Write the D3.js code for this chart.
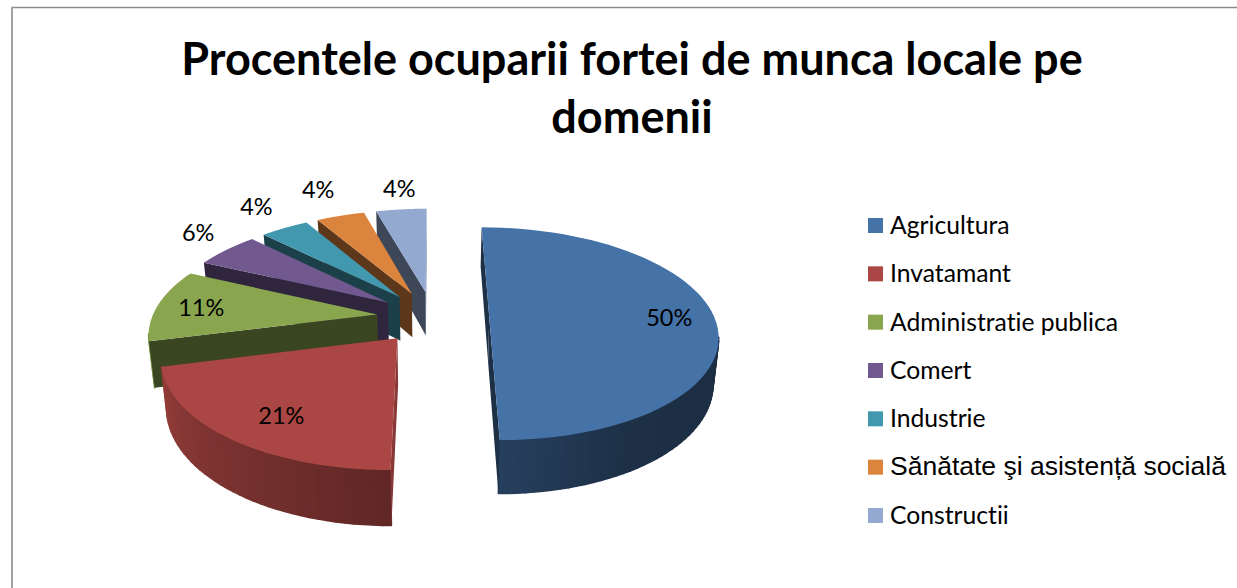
<!DOCTYPE html>
<html>
<head>
<meta charset="utf-8">
<script src="https://d3js.org/d3.v7.min.js"></script>
<style>
  html, body { margin: 0; padding: 0; background: #fff; }
  svg { display: block; }
  text { fill: #000; font-variant-ligatures: none; }
  .title { font-family: Lato, sans-serif; font-weight: 700; font-size: 45px; text-anchor: middle; }
  .pct { font-family: Lato, sans-serif; font-size: 23.5px; text-anchor: middle; dominant-baseline: central; }
  .leg { font-family: Lato, sans-serif; font-size: 24.7px; dominant-baseline: central; }
  .leg.arial { font-family: "Liberation Sans", sans-serif; font-size: 26.5px; }
</style>
</head>
<body>
<svg id="MyGraph" width="1237" height="588"></svg>
<script>
var title_lines = ["Procentele ocuparii fortei de munca locale pe", "domenii"];
var categories = ["Agricultura", "Invatamant", "Administratie publica", "Comert", "Industrie", "Sănătate şi asistență socială", "Constructii"];
// values, the labels round them
var values = [50, 21, 11, 5.5, 4.1, 4.1, 4.3];
var colors = ["#4572a7", "#aa4643", "#89a54e", "#71588f", "#4198af", "#db843d", "#93a9cf"];

// 3D pie geometry: ground plane (u right, v toward the viewer) seen in perspective
var cx = 433, cy = 317, horizon = -344;
var radius_x = 225, persp = 0.157, explode = 0.25, depth = 45, shrink = 0.98;
var label_r = [0.8, 0.76, 0.8, 1.27, 1.34, 1.41, 1.3];
var label_turn = [0, -3, 0, 3.5, 1.5, 0.5, 1];

var svg = d3.select("#MyGraph");

// frame
svg.append("line").attr("x1", 11).attr("x2", 1237).attr("y1", 7.5).attr("y2", 7.5)
    .attr("stroke", "#8c8c8c").attr("stroke-width", 1.5);
svg.append("line").attr("x1", 12).attr("x2", 12).attr("y1", 7).attr("y2", 588)
    .attr("stroke", "#a0a0a0").attr("stroke-width", 2);

// title
svg.selectAll("text.title").data(title_lines).enter().append("text")
    .attr("class", "title")
    .attr("x", 632)
    .attr("y", function(d, i){ return 75 + i * 58; })
    .text(function(d){ return d; });

function depthScale(v){ return 1 / (1 - persp * v); }

// ground -> top face
function project(u, v){
  var w = depthScale(v);
  return [cx + radius_x * u * w, horizon + (cy - horizon) * w];
}
// ground -> bottom face
function projectLow(u, v){
  var p = project(u, v);
  return [cx + (p[0] - cx) * shrink, p[1] + depth * depthScale(v)];
}

function shade(color, k){
  var c = d3.rgb(color);
  return d3.rgb(c.r * k, c.g * k, c.b * k).formatHex();
}

// rim shading by angle (degrees, clockwise from the back)
var rim_shade = d3.scaleLinear()
    .domain([0, 90, 150, 180, 255, 360])
    .range([0.4, 0.4, 0.42, 0.56, 0.86, 0.86]);

var pie = d3.pie().sort(null).startAngle(0).endAngle(2 * Math.PI).padAngle(0);
var slices = pie(values).map(function(d, i){
  var mid = (d.startAngle + d.endAngle) / 2;
  return {
    i: i,
    a0: d.startAngle,
    a1: d.endAngle,
    mid: mid,
    eu: explode * Math.sin(mid),
    ev: -explode * Math.cos(mid)
  };
});

var line = d3.line();
var camera = [0, 1 / persp];

function faces(n, p){
  return n[0] * (camera[0] - p[0]) + n[1] * (camera[1] - p[1]) > 0;
}

function rimPoint(s, a){
  return [s.eu + Math.sin(a), s.ev - Math.cos(a)];
}

function wallPath(s, a){
  var r = rimPoint(s, a);
  return line([
    project(s.eu, s.ev), project(r[0], r[1]),
    projectLow(r[0], r[1]), projectLow(s.eu, s.ev)
  ]) + "Z";
}

// far slices first
var order = slices.slice().reverse();

order.forEach(function(s){
  var g = svg.append("g").attr("class", "slice");
  var color = colors[s.i];

  // outer rim in small strips
  var step = Math.PI / 180 * 2;
  var n = Math.max(1, Math.ceil((s.a1 - s.a0) / step));
  d3.range(n).forEach(function(k){
    var a = s.a0 + (s.a1 - s.a0) * k / n;
    var b = s.a0 + (s.a1 - s.a0) * (k + 1) / n;
    var m = (a + b) / 2;
    if (!faces([Math.sin(m), -Math.cos(m)], rimPoint(s, m))) return;
    var pa = rimPoint(s, a), pb = rimPoint(s, b);
    var fill = shade(color, rim_shade(m * 180 / Math.PI));
    g.append("path")
        .attr("d", line([project(pa[0], pa[1]), project(pb[0], pb[1]), projectLow(pb[0], pb[1]), projectLow(pa[0], pa[1])]) + "Z")
        .attr("fill", fill).attr("stroke", fill).attr("stroke-width", 1.6).attr("stroke-linejoin", "round");
  });

  // radial walls
  var n0 = [-Math.cos(s.a0), -Math.sin(s.a0)];
  var n1 = [Math.cos(s.a1), Math.sin(s.a1)];
  [[s.a0, n0], [s.a1, n1]].forEach(function(w){
    if (!faces(w[1], [s.eu, s.ev])) return;
    g.append("path")
        .attr("d", wallPath(s, w[0]))
        .attr("fill", shade(color, w[1][0] > 0.9 ? 0.8 : 0.42));
  });

  // top face
  var pts = [project(s.eu, s.ev)];
  d3.range(0, 61).forEach(function(k){
    var r = rimPoint(s, s.a0 + (s.a1 - s.a0) * k / 60);
    pts.push(project(r[0], r[1]));
  });
  g.append("path").attr("d", line(pts) + "Z").attr("fill", color);
});

// data labels
svg.selectAll("text.pct").data(slices).enter().append("text")
    .attr("class", "pct")
    .attr("transform", function(s){
      var r = label_r[s.i];
      var a = s.mid + label_turn[s.i] * Math.PI / 180;
      var p = project(s.eu + r * Math.sin(a), s.ev - r * Math.cos(a));
      return "translate(" + p[0] + "," + p[1] + ")";
    })
    .text(function(s){ return d3.format(".0f")(values[s.i]) + "%"; });

// legend
var legend_y = d3.scalePoint().domain(categories).range([225.5, 515.5]);
var legend = svg.selectAll("g.legend").data(categories).enter().append("g")
    .attr("class", "legend")
    .attr("transform", function(d){ return "translate(868," + legend_y(d) + ")"; });
legend.append("rect")
    .attr("x", 0).attr("y", -7.5).attr("width", 15).attr("height", 15)
    .attr("fill", function(d, i){ return colors[i]; });
legend.append("text")
    .attr("class", function(d, i){ return i === 5 ? "leg arial" : "leg"; })
    .attr("x", 22)
    .attr("y", -1)
    .text(function(d){ return d; });
</script>
</body>
</html>
